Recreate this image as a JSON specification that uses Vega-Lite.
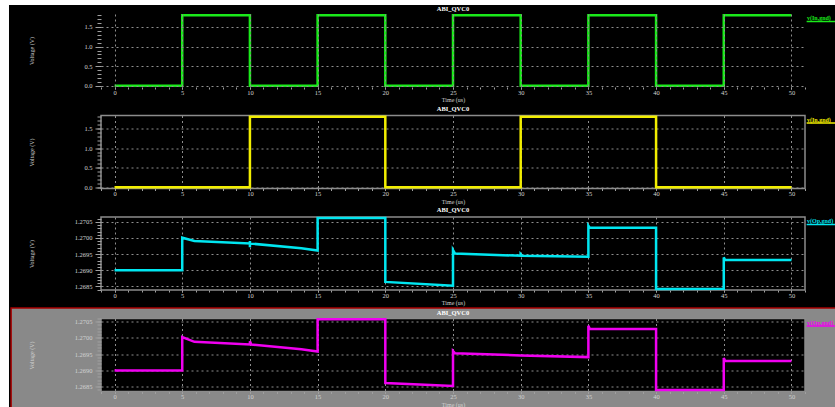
{
  "$schema": "https://vega.github.io/schema/vega-lite/v6.json",
  "background": "white",
  "padding": {"left": 8, "top": 4, "right": 0, "bottom": 0},
  "autosize": {"type": "pad"},
  "config": {
    "view": {"fill": "black", "stroke": "#8c8c8c", "strokeWidth": 1.5},
    "font": "Liberation Serif",
    "axis": {"labelFont": "Liberation Serif", "labelFontSize": 6.5, "labelColor": "#d2d2d2", "titleFont": "Liberation Serif", "titleFontSize": 6, "titleFontWeight": "normal", "titleColor": "#d2d2d2", "tickColor": "#a0a0a0", "domain": false, "gridColor": "#8e8e8e", "gridDash": [2, 3], "gridWidth": 1},
    "axisX": {"tickSize": 2, "labelPadding": 0, "titlePadding": 1},
    "axisY": {"tickSize": 6, "labelPadding": 3, "titleX": -70, "titleY": 36.5, "titleAlign": "center", "titleBaseline": "middle"},
    "title": {"font": "Liberation Serif", "fontSize": 6.5, "fontWeight": "bold", "color": "white", "offset": -1, "frame": "group"}
  },
  "datasets": {
    "clk": [
      {"i": 0, "t": 0, "v": 0}, {"i": 1, "t": 5, "v": 0}, {"i": 2, "t": 5, "v": 1.8}, {"i": 3, "t": 10, "v": 1.8},
      {"i": 4, "t": 10, "v": 0}, {"i": 5, "t": 15, "v": 0}, {"i": 6, "t": 15, "v": 1.8}, {"i": 7, "t": 20, "v": 1.8},
      {"i": 8, "t": 20, "v": 0}, {"i": 9, "t": 25, "v": 0}, {"i": 10, "t": 25, "v": 1.8}, {"i": 11, "t": 30, "v": 1.8},
      {"i": 12, "t": 30, "v": 0}, {"i": 13, "t": 35, "v": 0}, {"i": 14, "t": 35, "v": 1.8}, {"i": 15, "t": 40, "v": 1.8},
      {"i": 16, "t": 40, "v": 0}, {"i": 17, "t": 45, "v": 0}, {"i": 18, "t": 45, "v": 1.8}, {"i": 19, "t": 50, "v": 1.8}
    ],
    "din": [
      {"i": 0, "t": 0, "v": 0}, {"i": 1, "t": 10, "v": 0}, {"i": 2, "t": 10, "v": 1.8}, {"i": 3, "t": 20, "v": 1.8},
      {"i": 4, "t": 20, "v": 0}, {"i": 5, "t": 30, "v": 0}, {"i": 6, "t": 30, "v": 1.8}, {"i": 7, "t": 40, "v": 1.8},
      {"i": 8, "t": 40, "v": 0}, {"i": 9, "t": 50, "v": 0}
    ],
    "op1": [
      {"i": 0, "t": 0, "v": 1.2690}, {"i": 1, "t": 5, "v": 1.2690}, {"i": 2, "t": 5, "v": 1.27001}, {"i": 3, "t": 5.9, "v": 1.26991},
      {"i": 4, "t": 10, "v": 1.26983}, {"i": 5, "t": 10, "v": 1.26991}, {"i": 6, "t": 10, "v": 1.26971}, {"i": 7, "t": 10, "v": 1.26983},
      {"i": 8, "t": 13.8, "v": 1.26968}, {"i": 9, "t": 15, "v": 1.26961}, {"i": 10, "t": 15, "v": 1.27062}, {"i": 11, "t": 20, "v": 1.27062},
      {"i": 12, "t": 20, "v": 1.26864}, {"i": 13, "t": 25, "v": 1.26852}, {"i": 14, "t": 25, "v": 1.26963}, {"i": 15, "t": 25.15, "v": 1.26952},
      {"i": 16, "t": 30, "v": 1.26945}, {"i": 17, "t": 30, "v": 1.2695}, {"i": 18, "t": 30.1, "v": 1.26945}, {"i": 19, "t": 35, "v": 1.26942},
      {"i": 20, "t": 35, "v": 1.27038}, {"i": 21, "t": 35.1, "v": 1.27032}, {"i": 22, "t": 40, "v": 1.27032}, {"i": 23, "t": 40, "v": 1.26842},
      {"i": 24, "t": 45, "v": 1.26843}, {"i": 25, "t": 45, "v": 1.2694}, {"i": 26, "t": 45.1, "v": 1.26932}, {"i": 27, "t": 50, "v": 1.26932}
    ],
    "op2": [
      {"i": 0, "t": 0, "v": 1.2690}, {"i": 1, "t": 5, "v": 1.2690}, {"i": 2, "t": 5, "v": 1.27003}, {"i": 3, "t": 5.9, "v": 1.26988},
      {"i": 4, "t": 10, "v": 1.2698}, {"i": 5, "t": 10, "v": 1.2699}, {"i": 6, "t": 10.1, "v": 1.2698}, {"i": 7, "t": 13.8, "v": 1.26965},
      {"i": 8, "t": 15, "v": 1.26958}, {"i": 9, "t": 15, "v": 1.27058}, {"i": 10, "t": 20, "v": 1.27058}, {"i": 11, "t": 20, "v": 1.26861},
      {"i": 12, "t": 25, "v": 1.26852}, {"i": 13, "t": 25, "v": 1.2696}, {"i": 14, "t": 25.15, "v": 1.26953}, {"i": 15, "t": 30, "v": 1.26946},
      {"i": 16, "t": 35, "v": 1.26941}, {"i": 17, "t": 35, "v": 1.27038}, {"i": 18, "t": 35.1, "v": 1.27028}, {"i": 19, "t": 40, "v": 1.27028},
      {"i": 20, "t": 40, "v": 1.2684}, {"i": 21, "t": 45, "v": 1.2684}, {"i": 22, "t": 45, "v": 1.26938}, {"i": 23, "t": 45.1, "v": 1.26929},
      {"i": 24, "t": 50, "v": 1.26929}
    ]
  },
  "bounds": "flush",
  "spacing": 28.5,
  "vconcat": [
    {
      "width": 704, "height": 73,
      "title": {"text": "ABI_QVC0", "offset": -7.5},
      "resolve": {"axis": {"x": "independent", "y": "independent"}},
      "layer": [
        {"data": {"values": [{}]}, "mark": {"type": "rect", "fill": "black"},
         "encoding": {"x": {"datum": -7.796, "type": "quantitative", "axis": null}, "x2": {"datum": 53.29},
                      "y": {"datum": 2.0593, "type": "quantitative", "axis": null}, "y2": {"datum": -8.2088}}},
        {"data": {"name": "clk"}, "mark": {"type": "line", "color": "#1aea1a", "strokeWidth": 2.5},
         "encoding": {
           "x": {"field": "t", "type": "quantitative", "scale": {"domain": [-1, 51], "nice": false, "zero": false},
                 "axis": {"values": [0, 5, 10, 15, 20, 25, 30, 35, 40, 45, 50], "format": "d", "title": "Time (us)", "grid": true, "zindex": 1}},
           "y": {"field": "v", "type": "quantitative", "scale": {"domain": [-0.03, 1.83], "nice": false, "zero": false},
                 "axis": {"values": [0, 0.5, 1, 1.5], "format": ".1f", "title": "Voltage (V)", "grid": true, "zindex": 1}},
           "order": {"field": "i"}}},
        {"data": {"name": "clk"}, "mark": {"type": "point", "opacity": 0, "size": 0, "strokeWidth": 0},
         "encoding": {
           "x": {"field": "t", "type": "quantitative", "scale": {"domain": [-1, 51], "nice": false, "zero": false},
                 "axis": {"tickCount": 52, "labels": false, "grid": false, "tickSize": 2, "title": null, "orient": "bottom", "zindex": 1}},
           "y": {"field": "v", "type": "quantitative", "scale": {"domain": [-0.03, 1.83], "nice": false, "zero": false},
                 "axis": {"tickCount": 19, "labels": false, "grid": false, "tickSize": 4, "title": null, "orient": "left", "zindex": 1}}}},
        {"data": {"values": [{}]}, "mark": {"type": "text", "align": "left", "baseline": "middle", "dx": 2, "dy": 4, "fontSize": 6, "fontWeight": "bold", "font": "Liberation Serif", "color": "#1aea1a"},
         "encoding": {"x": {"datum": 51, "type": "quantitative", "axis": null}, "y": {"datum": 1.83, "type": "quantitative", "axis": null}, "text": {"value": "v(In,gnd)"}}},
        {"data": {"values": [{}]}, "mark": {"type": "rule", "color": "#1aea1a", "strokeWidth": 1.5, "yOffset": 7.5},
         "encoding": {"x": {"datum": 51.12, "type": "quantitative", "axis": null}, "x2": {"datum": 53.29}, "y": {"datum": 1.83, "type": "quantitative", "axis": null}}}
      ]
    },
    {
      "width": 704, "height": 73,
      "title": {"text": "ABI_QVC0"},
      "resolve": {"axis": {"x": "independent", "y": "independent"}},
      "layer": [
        {"data": {"name": "din"}, "mark": {"type": "line", "color": "#f2ee00", "strokeWidth": 2.5},
         "encoding": {
           "x": {"field": "t", "type": "quantitative", "scale": {"domain": [-1, 51], "nice": false, "zero": false},
                 "axis": {"values": [0, 5, 10, 15, 20, 25, 30, 35, 40, 45, 50], "format": "d", "title": "Time (us)", "grid": true}},
           "y": {"field": "v", "type": "quantitative", "scale": {"domain": [-0.03, 1.83], "nice": false, "zero": false},
                 "axis": {"values": [0, 0.5, 1, 1.5], "format": ".1f", "title": "Voltage (V)", "grid": true}},
           "order": {"field": "i"}}},
        {"data": {"name": "din"}, "mark": {"type": "point", "opacity": 0, "size": 0, "strokeWidth": 0},
         "encoding": {
           "x": {"field": "t", "type": "quantitative", "scale": {"domain": [-1, 51], "nice": false, "zero": false},
                 "axis": {"tickCount": 52, "labels": false, "grid": false, "tickSize": 2, "title": null, "orient": "bottom"}},
           "y": {"field": "v", "type": "quantitative", "scale": {"domain": [-0.03, 1.83], "nice": false, "zero": false},
                 "axis": {"tickCount": 19, "labels": false, "grid": false, "tickSize": 4, "title": null, "orient": "left"}}}},
        {"data": {"values": [{}]}, "mark": {"type": "text", "align": "left", "baseline": "middle", "dx": 2, "dy": 4, "fontSize": 6, "fontWeight": "bold", "font": "Liberation Serif", "color": "#f2ee00"},
         "encoding": {"x": {"datum": 51, "type": "quantitative", "axis": null}, "y": {"datum": 1.83, "type": "quantitative", "axis": null}, "text": {"value": "v(In,gnd)"}}},
        {"data": {"values": [{}]}, "mark": {"type": "rule", "color": "#f2ee00", "strokeWidth": 1.5, "yOffset": 7.5},
         "encoding": {"x": {"datum": 51.12, "type": "quantitative", "axis": null}, "x2": {"datum": 53.29}, "y": {"datum": 1.83, "type": "quantitative", "axis": null}}}
      ]
    },
    {
      "width": 704, "height": 73,
      "title": {"text": "ABI_QVC0"},
      "resolve": {"axis": {"x": "independent", "y": "independent"}},
      "layer": [
        {"data": {"values": [{}]}, "mark": {"type": "rect", "fill": "#898989", "stroke": "#a80000", "strokeWidth": 1.5},
         "encoding": {"x": {"datum": -7.64, "type": "quantitative", "axis": null}, "x2": {"datum": 53.4},
                      "y": {"datum": 1.267833, "type": "quantitative", "axis": null}, "y2": {"datum": 1.2647}}},
        {"data": {"name": "op1"}, "mark": {"type": "line", "color": "#00e6f0", "strokeWidth": 2.5},
         "encoding": {
           "x": {"field": "t", "type": "quantitative", "scale": {"domain": [-1, 51], "nice": false, "zero": false},
                 "axis": {"values": [0, 5, 10, 15, 20, 25, 30, 35, 40, 45, 50], "format": "d", "title": "Time (us)", "grid": true}},
           "y": {"field": "v", "type": "quantitative", "scale": {"domain": [1.26839, 1.27065], "nice": false, "zero": false},
                 "axis": {"values": [1.2685, 1.269, 1.2695, 1.27, 1.2705], "format": ".4f", "title": "Voltage (V)", "grid": true}},
           "order": {"field": "i"}}},
        {"data": {"name": "op1"}, "mark": {"type": "point", "opacity": 0, "size": 0, "strokeWidth": 0},
         "encoding": {
           "x": {"field": "t", "type": "quantitative", "scale": {"domain": [-1, 51], "nice": false, "zero": false},
                 "axis": {"tickCount": 52, "labels": false, "grid": false, "tickSize": 2, "title": null, "orient": "bottom"}},
           "y": {"field": "v", "type": "quantitative", "scale": {"domain": [1.26839, 1.27065], "nice": false, "zero": false},
                 "axis": {"tickCount": 22, "labels": false, "grid": false, "tickSize": 4, "title": null, "orient": "left"}}}},
        {"data": {"values": [{}]}, "mark": {"type": "text", "align": "left", "baseline": "middle", "dx": 2, "dy": 4, "fontSize": 6, "fontWeight": "bold", "font": "Liberation Serif", "color": "#00e6f0"},
         "encoding": {"x": {"datum": 51, "type": "quantitative", "axis": null}, "y": {"datum": 1.27065, "type": "quantitative", "axis": null}, "text": {"value": "v(Op,gnd)"}}},
        {"data": {"values": [{}]}, "mark": {"type": "rule", "color": "#00e6f0", "strokeWidth": 1.5, "yOffset": 7.5},
         "encoding": {"x": {"datum": 51.12, "type": "quantitative", "axis": null}, "x2": {"datum": 53.29}, "y": {"datum": 1.27065, "type": "quantitative", "axis": null}}}
      ]
    },
    {
      "width": 704, "height": 73,
      "title": {"text": "ABI_QVC0", "offset": -2},
      "resolve": {"axis": {"x": "independent", "y": "independent"}},
      "layer": [
        {"data": {"name": "op2"}, "mark": {"type": "line", "color": "#f000f0", "strokeWidth": 2.5},
         "encoding": {
           "x": {"field": "t", "type": "quantitative", "scale": {"domain": [-1, 51], "nice": false, "zero": false},
                 "axis": {"values": [0, 5, 10, 15, 20, 25, 30, 35, 40, 45, 50], "format": "d", "title": "Time (us)", "grid": true}},
           "y": {"field": "v", "type": "quantitative", "scale": {"domain": [1.26835, 1.2706], "nice": false, "zero": false},
                 "axis": {"values": [1.2685, 1.269, 1.2695, 1.27, 1.2705], "format": ".4f", "title": "Voltage (V)", "grid": true}},
           "order": {"field": "i"}}},
        {"data": {"name": "op2"}, "mark": {"type": "point", "opacity": 0, "size": 0, "strokeWidth": 0},
         "encoding": {
           "x": {"field": "t", "type": "quantitative", "scale": {"domain": [-1, 51], "nice": false, "zero": false},
                 "axis": {"tickCount": 52, "labels": false, "grid": false, "tickSize": 2, "title": null, "orient": "bottom"}},
           "y": {"field": "v", "type": "quantitative", "scale": {"domain": [1.26835, 1.2706], "nice": false, "zero": false},
                 "axis": {"tickCount": 22, "labels": false, "grid": false, "tickSize": 4, "title": null, "orient": "left"}}}},
        {"data": {"values": [{}]}, "mark": {"type": "text", "align": "left", "baseline": "middle", "dx": 2, "dy": 4, "fontSize": 6, "fontWeight": "bold", "font": "Liberation Serif", "color": "#f000f0"},
         "encoding": {"x": {"datum": 51, "type": "quantitative", "axis": null}, "y": {"datum": 1.2706, "type": "quantitative", "axis": null}, "text": {"value": "v(Op,gnd)"}}},
        {"data": {"values": [{}]}, "mark": {"type": "rule", "color": "#f000f0", "strokeWidth": 1.5, "yOffset": 7.5},
         "encoding": {"x": {"datum": 51.12, "type": "quantitative", "axis": null}, "x2": {"datum": 53.29}, "y": {"datum": 1.2706, "type": "quantitative", "axis": null}}}
      ]
    }
  ]
}
